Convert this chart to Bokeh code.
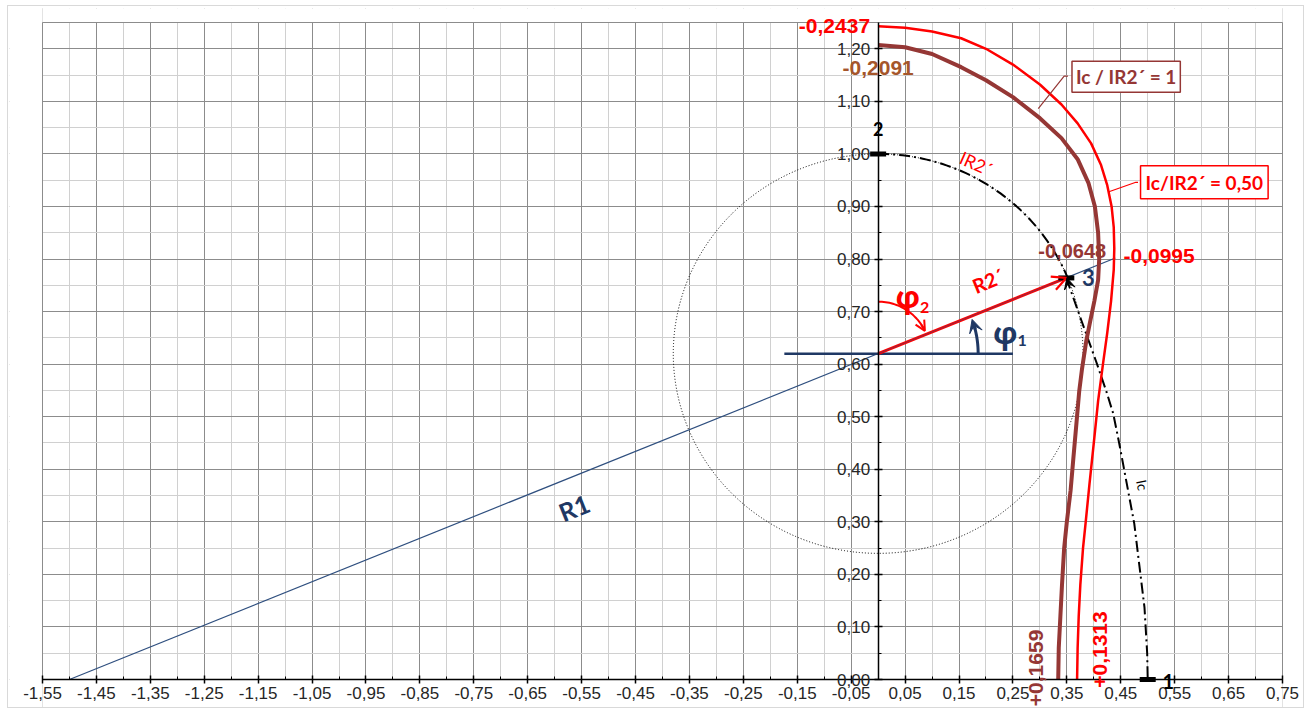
import numpy as np
from bokeh.plotting import figure
from bokeh.models import FixedTicker, Label, Arrow, VeeHead, OpenHead
from bokeh.embed import file_html
from bokeh.resources import INLINE

# ---------------- axes / ticks ----------------
x_ticks = [-1.55, -1.45, -1.35, -1.25, -1.15, -1.05, -0.95, -0.85, -0.75, -0.65, -0.55, -0.45,
           -0.35, -0.25, -0.15, -0.05, 0.05, 0.15, 0.25, 0.35, 0.45, 0.55, 0.65, 0.75]
x_tick_labels = ["-1,55", "-1,45", "-1,35", "-1,25", "-1,15", "-1,05", "-0,95", "-0,85", "-0,75",
                 "-0,65", "-0,55", "-0,45", "-0,35", "-0,25", "-0,15", "-0,05", "0,05", "0,15",
                 "0,25", "0,35", "0,45", "0,55", "0,65", "0,75"]
x_minor = [-1.5, -1.4, -1.3, -1.2, -1.1, -1.0, -0.9, -0.8, -0.7, -0.6, -0.5, -0.4, -0.3, -0.2,
           -0.1, 0.0, 0.1, 0.2, 0.3, 0.4, 0.5, 0.6, 0.7]
y_ticks = [0.0, 0.1, 0.2, 0.3, 0.4, 0.5, 0.6, 0.7, 0.8, 0.9, 1.0, 1.1, 1.2]
y_tick_labels = ["0,00", "0,10", "0,20", "0,30", "0,40", "0,50", "0,60", "0,70", "0,80", "0,90",
                 "1,00", "1,10", "1,20"]
y_minor = [0.05, 0.15, 0.25, 0.35, 0.45, 0.55, 0.65, 0.75, 0.85, 0.95, 1.05, 1.15]

# ---------------- curves ----------------
# Ic / IR2' = 0,50 (red)
red_x = [0.000, 0.050, 0.100, 0.154, 0.200, 0.250, 0.300, 0.340, 0.370, 0.395, 0.413, 0.425,
         0.433, 0.437, 0.438, 0.437, 0.432, 0.425, 0.417, 0.408, 0.400, 0.392, 0.385, 0.380,
         0.375, 0.372, 0.370, 0.369]
red_y = [1.243, 1.240, 1.233, 1.220, 1.200, 1.170, 1.132, 1.094, 1.058, 1.020, 0.980, 0.940,
         0.900, 0.860, 0.820, 0.780, 0.720, 0.660, 0.600, 0.530, 0.450, 0.372, 0.300, 0.250,
         0.180, 0.120, 0.060, 0.000]
# Ic / IR2' = 1 (brown)
brown_x = [0.000, 0.050, 0.100, 0.154, 0.200, 0.250, 0.300, 0.340, 0.370, 0.390, 0.402, 0.408,
           0.410, 0.408, 0.401, 0.393, 0.386, 0.378, 0.373, 0.368, 0.362, 0.357, 0.350, 0.345,
           0.341, 0.338, 0.335, 0.334]
brown_y = [1.207, 1.203, 1.190, 1.165, 1.140, 1.108, 1.068, 1.030, 0.990, 0.945, 0.900, 0.850,
           0.800, 0.760, 0.720, 0.680, 0.644, 0.590, 0.549, 0.490, 0.420, 0.360, 0.300, 0.250,
           0.180, 0.120, 0.060, 0.000]
# Ic locus from point 3 to point 1 (dash-dot)
ic_x = [0.349, 0.377, 0.404, 0.423, 0.436, 0.447, 0.475, 0.494, 0.499, 0.500]
ic_y = [0.764, 0.683, 0.606, 0.549, 0.506, 0.450, 0.297, 0.137, 0.050, 0.000]
# R1 line (through the circle centre), R2' vector, horizontal base line
r1_x = [-1.50, 0.44]
r1_y = [0.00, 0.802]
r2_x = [0.0, 0.349]
r2_y = [0.62, 0.764]
base_x = [-0.174, 0.25]
base_y = [0.62, 0.62]
# circle (IR2' locus)
circ_cx, circ_cy, circ_r = 0.0, 0.62, 0.38
arc_start_deg, arc_end_deg = 90.0, 22.4
# marked points 2, 1, 3
pts_x = [0.0, 0.5, 0.349]
pts_y = [1.0, 0.0, 0.764]
# leader lines of the boxes
lead_brown_x = [0.352, 0.345, 0.297]
lead_brown_y = [1.148, 1.148, 1.086]
lead_red_x = [0.482, 0.478, 0.428]
lead_red_y = [0.946, 0.946, 0.928]

RED = "#FF0000"
BROWN = "#953735"
NAVY = "#1F3864"
NAVY_THIN = "#2F4F7F"

# plot area (axes box) in data units and its pixel size
X0, X1, Y0, Y1 = -1.55, 0.75, 0.0, 1.25
AW, AH = 1240, 657
sx = AW / (X1 - X0)
sy = AH / (Y1 - Y0)
# the drawing frame is larger than the axes box so that texts may overhang it
PAD_L, PAD_R, PAD_T, PAD_B = 33, 23, 14, 30
XS, XE = X0 - PAD_L / sx, X1 + PAD_R / sx
YS, YE = Y0 - PAD_B / sy, Y1 + PAD_T / sy
W, H = 1297, 703
ML, MT = 1, 2
FW, FH = AW + PAD_L + PAD_R, AH + PAD_T + PAD_B
MR, MB = W - ML - FW, H - MT - FH

p = figure(width=W, height=H, x_range=(XS, XE), y_range=(YS, YE),
           output_backend="svg", toolbar_location=None,
           min_border_left=ML, min_border_right=MR, min_border_top=MT, min_border_bottom=MB)
p.background_fill_color = "white"
p.border_fill_color = "white"
p.outline_line_color = None
p.styles = {"border": "1px solid #D9D9D9", "margin-left": "7px", "margin-top": "5px"}

xt = FixedTicker(ticks=x_ticks, minor_ticks=x_minor)
yt = FixedTicker(ticks=y_ticks, minor_ticks=y_minor)
p.xaxis.ticker = xt
p.yaxis.ticker = yt
p.xgrid.ticker = xt
p.ygrid.ticker = yt
for g in (p.xgrid, p.ygrid):
    g.grid_line_color = "#8C8C8C"
    g.grid_line_width = 1
    g.minor_grid_line_color = "#D0D0D0"
    g.minor_grid_line_width = 1

p.xaxis.major_label_overrides = dict(zip(x_ticks, x_tick_labels))
p.yaxis.major_label_overrides = dict(zip(y_ticks, y_tick_labels))
p.yaxis.fixed_location = 0
p.xaxis.fixed_location = 0
p.xaxis.bounds = (X0, X1)
p.yaxis.bounds = (Y0, Y1)
for ax in (p.xaxis, p.yaxis):
    ax.axis_line_color = "black"
    ax.axis_line_width = 1.5
    ax.major_tick_line_color = "black"
    ax.major_tick_line_width = 1.5
    ax.major_tick_in = 4
    ax.major_tick_out = 4
    ax.minor_tick_line_color = "black"
    ax.minor_tick_in = 3
    ax.minor_tick_out = 0
    ax.major_label_text_font = "Liberation Sans"
    ax.major_label_text_font_size = "17px"
    ax.major_label_text_color = "#262626"
p.xaxis.major_label_standoff = 3
p.yaxis.major_label_standoff = 4

# white margins round the axes box (hide the grid outside it) and the box outline
white = dict(fill_color="white", line_color=None)
p.quad(left=[XS, X1, X0, X0], right=[X0, XE, X1, X1], bottom=[YS, YS, YS, Y1],
       top=[YE, YE, Y0, YE], **white)
p.quad(left=[X0], right=[X1], bottom=[Y0], top=[Y1], fill_color=None,
       line_color="#8C8C8C", line_width=1)

# dotted circle
p.ellipse(x=circ_cx, y=circ_cy, width=2 * circ_r, height=2 * circ_r, fill_color=None,
          line_color="black", line_width=1, line_dash="1 2")

# dash-dot IR2' arc (on the circle from point 2 to point 3) and Ic locus
t = np.radians(np.linspace(arc_start_deg, arc_end_deg, 60))
p.line(circ_cx + circ_r * np.cos(t), circ_cy + circ_r * np.sin(t), line_color="black",
       line_width=2, line_dash="11 4 2 4")
p.line(ic_x, ic_y, line_color="black", line_width=2, line_dash="11 4 2 4")

# R1 line and horizontal base
p.line(r1_x, r1_y, line_color=NAVY_THIN, line_width=1.2)
p.line(base_x, base_y, line_color=NAVY, line_width=2.5)

# curves
p.line(brown_x, brown_y, line_color=BROWN, line_width=4, line_join="round")
p.line(red_x, red_y, line_color=RED, line_width=2.5, line_join="round")

# leader lines
p.line(lead_brown_x, lead_brown_y, line_color=BROWN, line_width=1.2)
p.line(lead_red_x, lead_red_y, line_color=RED, line_width=1.2)

# R2' vector
p.line(r2_x, r2_y, line_color=RED, line_width=3)
p.line(r2_x, r2_y, line_color=NAVY_THIN, line_width=0.8, line_alpha=0.7)
p.add_layout(Arrow(x_start=r2_x[0], y_start=r2_y[0], x_end=r2_x[1], y_end=r2_y[1],
                   line_alpha=0, end=OpenHead(size=14, line_color=RED, line_width=2.2)))

# arrowhead of Ic at point 3
p.add_layout(Arrow(x_start=0.356, y_start=0.742, x_end=0.350, y_end=0.764, line_alpha=0,
                   end=VeeHead(size=11, fill_color="black", line_color="black")))

# phi1 arc (navy, anticlockwise from base line)
phi1_r, phi1_end = 100, 20.0
a1 = np.radians(np.linspace(0, phi1_end - 4, 20))
p.line(phi1_r * np.cos(a1) / sx, circ_cy + phi1_r * np.sin(a1) / sy, line_color=NAVY, line_width=3)
e1 = np.radians(phi1_end)
s1 = np.radians(phi1_end - 6)
p.add_layout(Arrow(x_start=phi1_r * np.cos(s1) / sx, y_start=circ_cy + phi1_r * np.sin(s1) / sy,
                   x_end=phi1_r * np.cos(e1) / sx, y_end=circ_cy + phi1_r * np.sin(e1) / sy,
                   line_color=NAVY, line_width=3,
                   end=VeeHead(size=13, fill_color=NAVY, line_color=NAVY)))

# phi2 arc (red, clockwise from vertical to R2')
phi2_r, phi2_end = 52, 26.0
a2 = np.radians(np.linspace(90, phi2_end + 4, 30))
p.line(phi2_r * np.cos(a2) / sx, circ_cy + phi2_r * np.sin(a2) / sy, line_color=RED, line_width=2)
e2 = np.radians(phi2_end)
s2 = np.radians(phi2_end + 8)
p.add_layout(Arrow(x_start=phi2_r * np.cos(s2) / sx, y_start=circ_cy + phi2_r * np.sin(s2) / sy,
                   x_end=phi2_r * np.cos(e2) / sx, y_end=circ_cy + phi2_r * np.sin(e2) / sy,
                   line_color=RED, line_width=2,
                   end=OpenHead(size=10, line_color=RED, line_width=2)))

# point markers (thick dashes)
p.scatter(pts_x, pts_y, marker="dash", size=16, line_color="black", line_width=5)


def lab(x, y, text, color, size, font="Liberation Sans", style="bold", angle=0.0,
        align="center", baseline="middle", **kw):
    p.add_layout(Label(x=x, y=y, text=text, text_color=color, text_font=font,
                       text_font_size=size, text_font_style=style, angle=angle,
                       text_align=align, text_baseline=baseline, **kw))


CAL = "Lato"
lab(-0.015, 1.243, "-0,2437", RED, "21px", align="right")
lab(0.0, 1.163, "-0,2091", "#A5562B", "21px")
lab(0.36, 0.816, "-0,0648", BROWN, "20px")
lab(0.455, 0.805, "-0,0995", RED, "21px", align="left")
lab(0.293, 0.022, "+0,1659", BROWN, "21px", angle=np.pi / 2)
lab(0.412, 0.057, "+0,1313", RED, "21px", angle=np.pi / 2)
lab(0.0, 1.047, "2", "black", "18px", font=CAL)
lab(0.538, -0.003, "1", "black", "20px", font=CAL)
lab(0.39, 0.764, "3", NAVY, "22px", font=CAL)
lab(0.182, 0.982, "IR2\u00b4", RED, "18px", font=CAL, style="normal", angle=-0.42)
lab(0.490, 0.370, "Ic", "black", "14px", font=CAL, style="normal", angle=-1.37)
lab(-0.564, 0.327, "R1", NAVY, "25px", font=CAL, angle=0.38)
lab(0.204, 0.759, "R2\u00b4", RED, "20px", font=CAL, angle=0.39)
lab(0.055, 0.730, "\u03c6", RED, "31px", font="Open Sans")
lab(0.086, 0.708, "2", RED, "16px", font=CAL)
lab(0.236, 0.662, "\u03c6", NAVY, "31px", font="Open Sans")
lab(0.267, 0.645, "1", NAVY, "16px", font=CAL)
lab(0.46, 1.147, "Ic / IR2\u00b4 = 1", BROWN, "19px", font=CAL,
    background_fill_color="white", border_line_color=BROWN, border_line_width=1.5, padding=4)
lab(0.605, 0.946, "Ic/IR2\u00b4 = 0,50", RED, "19px", font=CAL,
    background_fill_color="white", border_line_color=RED, border_line_width=1.5, padding=5)

open("out.html", "w").write(file_html(p, INLINE))
